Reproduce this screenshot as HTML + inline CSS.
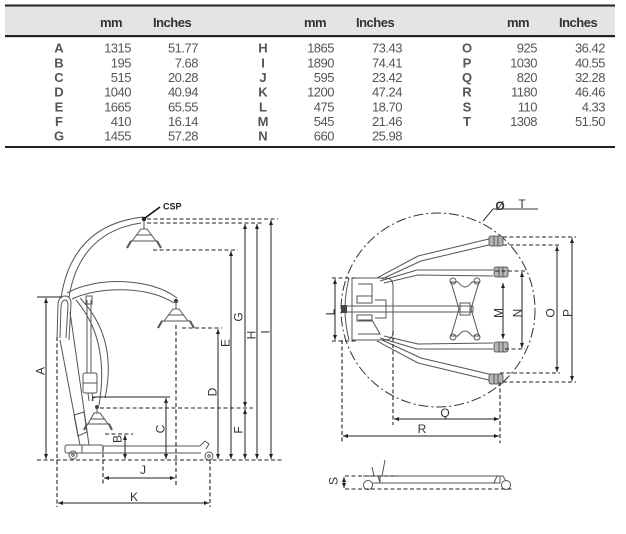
<!DOCTYPE html>
<html><head><meta charset="utf-8"><style>
html,body{margin:0;padding:0;background:#fff;}
svg{display:block;}
.t{font-family:"Liberation Sans",sans-serif;}
</style></head><body>
<svg width="626" height="534" viewBox="0 0 626 534" xmlns="http://www.w3.org/2000/svg">
<defs>
<marker id="ar" viewBox="0 0 6 6" refX="6" refY="3" markerUnits="userSpaceOnUse" markerWidth="5" markerHeight="5" orient="auto-start-reverse"><path d="M0,0.6 L6,3 L0,5.4 z" fill="#222"/></marker>
</defs>
<rect width="626" height="534" fill="#fff"/>

<!-- TABLE -->
<rect x="5" y="6" width="610" height="29" fill="#e4e4e4"/>
<rect x="5" y="4.5" width="610" height="2" fill="#222"/>
<rect x="5" y="35" width="610" height="2.2" fill="#222"/>
<rect x="5" y="146" width="610" height="2" fill="#222"/>
<g class="t" font-size="13" font-weight="bold" fill="#333" letter-spacing="-0.5">
<text x="111" y="27" text-anchor="middle">mm</text>
<text x="153" y="27">Inches</text>
<text x="315" y="27" text-anchor="middle">mm</text>
<text x="356" y="27">Inches</text>
<text x="518" y="27" text-anchor="middle">mm</text>
<text x="559" y="27">Inches</text>
</g>
<g class="t" font-size="13" font-weight="bold" fill="#555" text-anchor="middle">
<text x="59" y="52.7">A</text><text x="59" y="67.4">B</text><text x="59" y="82">C</text><text x="59" y="96.7">D</text><text x="59" y="111.4">E</text><text x="59" y="126">F</text><text x="59" y="140.7">G</text>
<text x="263" y="52.7">H</text><text x="263" y="67.4">I</text><text x="263" y="82">J</text><text x="263" y="96.7">K</text><text x="263" y="111.4">L</text><text x="263" y="126">M</text><text x="263" y="140.7">N</text>
<text x="467" y="52.7">O</text><text x="467" y="67.4">P</text><text x="467" y="82">Q</text><text x="467" y="96.7">R</text><text x="467" y="111.4">S</text><text x="467" y="126">T</text>
</g>
<g class="t" font-size="13" fill="#555" text-anchor="end" letter-spacing="-0.5">
<text x="131" y="52.7">1315</text><text x="131" y="67.4">195</text><text x="131" y="82">515</text><text x="131" y="96.7">1040</text><text x="131" y="111.4">1665</text><text x="131" y="126">410</text><text x="131" y="140.7">1455</text>
<text x="198" y="52.7">51.77</text><text x="198" y="67.4">7.68</text><text x="198" y="82">20.28</text><text x="198" y="96.7">40.94</text><text x="198" y="111.4">65.55</text><text x="198" y="126">16.14</text><text x="198" y="140.7">57.28</text>
<text x="334" y="52.7">1865</text><text x="334" y="67.4">1890</text><text x="334" y="82">595</text><text x="334" y="96.7">1200</text><text x="334" y="111.4">475</text><text x="334" y="126">545</text><text x="334" y="140.7">660</text>
<text x="402" y="52.7">73.43</text><text x="402" y="67.4">74.41</text><text x="402" y="82">23.42</text><text x="402" y="96.7">47.24</text><text x="402" y="111.4">18.70</text><text x="402" y="126">21.46</text><text x="402" y="140.7">25.98</text>
<text x="537" y="52.7">925</text><text x="537" y="67.4">1030</text><text x="537" y="82">820</text><text x="537" y="96.7">1180</text><text x="537" y="111.4">110</text><text x="537" y="126">1308</text>
<text x="605" y="52.7">36.42</text><text x="605" y="67.4">40.55</text><text x="605" y="82">32.28</text><text x="605" y="96.7">46.46</text><text x="605" y="111.4">4.33</text><text x="605" y="126">51.50</text>
</g>

<!-- LEFT: side view lift -->
<g fill="none" stroke="#555" stroke-width="1">
<path d="M61,298 Q72,225 143,217"/>
<path d="M69,297 Q80,232 141,223"/>
<path d="M144,220 L144,229"/>
<path d="M141,229 L147,229 L156,241 L132,241 Z"/>
<path d="M136,235 L152,235"/>
<path d="M130,241 L158,241"/>
<path d="M131,241 L127,248 M157,241 L161,248" stroke-width="2"/>
<path d="M67,293 C95,277 150,277 177,298"/>
<path d="M72,299 C100,286 148,286 174,303"/>
<path d="M176,303 L176,309"/>
<path d="M173,309 L179,309 L188,321 L164,321 Z"/>
<path d="M168,315 L184,315"/>
<path d="M161,321 L191,321"/>
<path d="M162,321 L158,328 M190,321 L194,328" stroke-width="2"/>
<path d="M57,340 L58,304 Q59,296 65,296 Q71,296 71,304 L69,340"/>
<path d="M60,338 L61,306 Q62,300 65,300 Q68,300 68,306 L66,338"/>
<path d="M60,340 L80,445"/>
<path d="M70,312 L89,445"/>
<path d="M74,415 L84,412 L87,432 L78,436 Z"/>
<path d="M87,300 L87,373 M91,300 L91,373"/>
<rect x="86" y="296" width="6" height="8"/>
<rect x="83" y="373" width="14" height="20" rx="2"/>
<path d="M83,383 L97,383"/>
<path d="M88,393 L89,401 M92,393 L93,401"/>
<path d="M76,300 Q110,340 99,405"/>
<path d="M80,298 Q118,338 105,398"/>
<path d="M97,397 Q92,397 92,401"/>
<path d="M97,406 L97,413"/>
<path d="M94,413 L100,413 L108,424 L88,424 Z"/>
<path d="M91,419 L105,419"/>
<path d="M86,424 L110,424"/>
<path d="M87,424 L84,430 M109,424 L112,430" stroke-width="2"/>
<rect x="65" y="445" width="38" height="8" rx="2"/>
<path d="M82,445 L82,453"/>
<path d="M103,446 L200,446 M103,453 L201,453"/>
<path d="M200,446 L205,441 L209,444 L206,449"/>
<circle cx="73" cy="455" r="4"/>
<circle cx="209" cy="456" r="4"/>
<circle cx="73" cy="455" r="1.3"/>
<circle cx="209" cy="456" r="1.3"/>
</g>
<circle cx="144" cy="219" r="2.2" fill="#222"/>
<circle cx="176" cy="301" r="2.2" fill="#444"/>
<circle cx="97" cy="407" r="2" fill="#444"/>
<path d="M145,218 L160,207" stroke="#111" stroke-width="1.6"/>
<text x="163" y="209.5" class="t" font-size="9" font-weight="bold" fill="#222">CSP</text>

<g fill="none" stroke="#222" stroke-width="1.1" stroke-dasharray="4,2.5">
<path d="M37,460 L282,460"/>
<path d="M147,219 L278,219"/>
<path d="M147,223 L262,223"/>
<path d="M153,250 L238,250"/>
<path d="M182,328 L222,328"/>
<path d="M100,408 L253,408"/>
<path d="M105,434 L133,434"/>
<path d="M57,337 L57,507"/>
<path d="M210,460 L210,507"/>
<path d="M103,447 L103,486"/>
<path d="M176,325 L176,486"/>
</g>
<g fill="none" stroke="#222" stroke-width="1" marker-start="url(#ar)" marker-end="url(#ar)">
<path d="M46,298 L46,459"/>
<path d="M58,503 L209,503"/>
<path d="M104,478 L175,478"/>
<path d="M125,435 L125,459"/>
<path d="M166,398 L166,459"/>
<path d="M218,329 L218,459"/>
<path d="M231,251 L231,459"/>
<path d="M245,224 L245,407"/>
<path d="M245,409 L245,459"/>
<path d="M257,224 L257,459"/>
<path d="M271,220 L271,459"/>
</g>
<g stroke="#222" stroke-width="1">
<path d="M37,297 L62,297"/>
<path d="M92,397 L170,397"/>
</g>
<g class="t" font-size="12" fill="#333" text-anchor="middle">
<text transform="translate(40,371) rotate(-90)" dy="0.36em">A</text>
<text transform="translate(117,439) rotate(-90)" dy="0.36em">B</text>
<text transform="translate(160,429) rotate(-90)" dy="0.36em">C</text>
<text transform="translate(212,392) rotate(-90)" dy="0.36em">D</text>
<text transform="translate(225,343) rotate(-90)" dy="0.36em">E</text>
<text transform="translate(238,430) rotate(-90)" dy="0.36em">F</text>
<text transform="translate(238,317) rotate(-90)" dy="0.36em">G</text>
<text transform="translate(251,335) rotate(-90)" dy="0.36em">H</text>
<text transform="translate(265,332) rotate(-90)" dy="0.36em">I</text>
<text x="143" y="474">J</text>
<text x="134" y="501">K</text>
</g>

<!-- RIGHT: top view -->
<circle cx="438" cy="310" r="97" fill="none" stroke="#333" stroke-width="1" stroke-dasharray="10,3,2,3"/>
<g fill="none" stroke="#555" stroke-width="1">
<path d="M352,278 L385,278 Q393,278 393,286 L393,332 Q393,340 385,340 L352,340 Z"/>
<path d="M349,278 Q341,309 349,340"/>
<path d="M352,278 L352,340"/>
<path d="M358,284 L372,284 L372,300 M358,320 L372,320 L380,334 L358,334"/>
<rect x="357" y="296" width="15" height="7"/>
<rect x="357" y="315" width="15" height="6"/>
<path d="M375,300 L386,300 L386,318 L375,318"/>
<rect x="345" y="306" width="128" height="6"/>
<path d="M451,282 L458,282 Q465,292 472,282 L479,282 L471,309 L479,336 L472,336 Q465,326 458,336 L451,336 L459,309 Z"/>
<rect x="460" y="303" width="10" height="12"/>
<circle cx="453" cy="281" r="3"/><circle cx="477" cy="281" r="3"/>
<circle cx="453" cy="337" r="3"/><circle cx="477" cy="337" r="3"/>
<path d="M377,278 L418,256 L493,238"/>
<path d="M382,279 L421,261 L493,244"/>
<path d="M380,281 L417,270 L493,270"/>
<path d="M384,283 L418,275 L493,276"/>
<path d="M377,341 L418,363 L493,381"/>
<path d="M382,340 L421,358 L493,375"/>
<path d="M380,338 L417,349 L493,349"/>
<path d="M384,336 L418,344 L493,343"/>
</g>
<g fill="#b4b4b4" stroke="#444" stroke-width="0.8">
<rect x="489" y="236" width="14" height="10" rx="2"/>
<rect x="494" y="267" width="14" height="10" rx="2"/>
<rect x="489" y="374" width="14" height="10" rx="2"/>
<rect x="494" y="342" width="14" height="10" rx="2"/>
</g>
<g stroke="#444" stroke-width="0.8">
<path d="M494,236 L494,246 M498,236 L498,246 M499,267 L499,277 M503,267 L503,277 M494,374 L494,384 M498,374 L498,384 M499,342 L499,352 M503,342 L503,352"/>
</g>
<rect x="341" y="305" width="6" height="8" fill="#444"/>
<path d="M483,221 L493,209 L538,209" fill="none" stroke="#333" stroke-width="1"/>
<text x="500" y="210" class="t" font-size="12" font-weight="bold" fill="#333" text-anchor="middle">Ø</text>
<text x="522" y="208" class="t" font-size="12" fill="#333" text-anchor="middle">T</text>

<g fill="none" stroke="#222" stroke-width="1.1" stroke-dasharray="4,2.5">
<path d="M503,237 L576,237"/>
<path d="M503,245 L560,245"/>
<path d="M495,271 L525,271"/>
<path d="M505,349 L525,349"/>
<path d="M500,373 L560,373"/>
<path d="M503,382 L576,382"/>
<path d="M332,278 L356,278"/>
<path d="M332,341 L356,341"/>
<path d="M393,331 L393,425"/>
<path d="M500,382 L500,443"/>
<path d="M342,340 L342,443"/>
</g>
<g fill="none" stroke="#222" stroke-width="1" marker-start="url(#ar)" marker-end="url(#ar)">
<path d="M572,238 L572,381"/>
<path d="M557,246 L557,372"/>
<path d="M522,272 L522,348"/>
<path d="M503,283 L503,339"/>
<path d="M335,279 L335,340"/>
<path d="M394,419 L499,419"/>
<path d="M343,436 L499,436"/>
</g>
<g class="t" font-size="12" fill="#333" text-anchor="middle">
<text transform="translate(330,312) rotate(-90)" dy="0.36em">L</text>
<text transform="translate(498,313) rotate(-90)" dy="0.36em">M</text>
<text transform="translate(517,313) rotate(-90)" dy="0.36em">N</text>
<text transform="translate(550,313) rotate(-90)" dy="0.36em">O</text>
<text transform="translate(567,313) rotate(-90)" dy="0.36em">P</text>
<text transform="translate(333,481) rotate(-90)" dy="0.36em">S</text>
<text x="445" y="417">Q</text>
<text x="422" y="433">R</text>
</g>

<!-- bottom side view -->
<g fill="none" stroke="#555" stroke-width="1">
<rect x="380" y="476" width="120" height="7"/>
<path d="M363,476 L378,476 L380,483 L372,483"/>
<path d="M374,476 L372,467 M382,476 L385,460"/>
<path d="M494,483 L497,476 L503,476 L506,481"/>
<circle cx="368" cy="485" r="4.5"/>
<circle cx="506" cy="485" r="4.5"/>
</g>
<g fill="none" stroke="#222" stroke-width="1.1" stroke-dasharray="4,2.5">
<path d="M345,476 L398,476"/>
<path d="M345,489 L512,489"/>
</g>
<path d="M344,477 L344,488" stroke="#222" stroke-width="1" marker-start="url(#ar)" marker-end="url(#ar)"/>
</svg>
</body></html>
